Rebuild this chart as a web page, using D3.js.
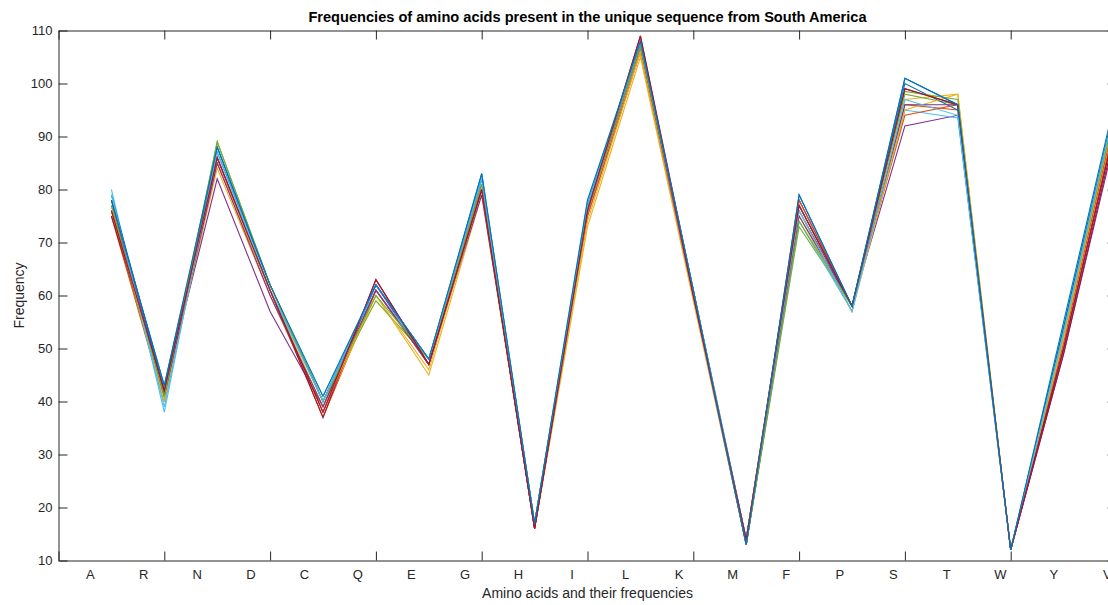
<!DOCTYPE html>
<html>
<head>
<meta charset="utf-8">
<script src="https://cdn.jsdelivr.net/npm/d3@7"></script>
<style>
  body { margin: 0; background: #fff; }
  svg { display: block; font-family: "Liberation Sans", Arial, sans-serif; }
</style>
</head>
<body>
<div id="chart-area"></div>
<script>
// amino acids along the x axis
var aminoAcids = ["A", "R", "N", "D", "C", "Q", "E", "G", "H", "I", "L", "K", "M", "F", "P", "S", "T", "W", "Y", "V"];

var yTicks = [10, 20, 30, 40, 50, 60, 70, 80, 90, 100, 110];
var xTicks = [0, 2, 4, 6, 8, 10, 12, 14, 16, 18, 20];

// one array per sequence (frequency of each amino acid, order as above)
var seq01 = [78, 43, 87, 62, 40, 62, 48, 83, 17, 77, 108, 61, 13, 79, 58, 101, 96, 12, 54, 97];
var seq02 = [75, 40, 85, 61, 37, 61, 47, 80, 16, 75, 106, 60, 14, 77, 58, 96, 95, 12, 50, 94];
var seq03 = [76, 41, 84, 60, 38, 60, 45, 79, 16, 73, 105, 59, 13, 75, 57, 97, 98, 12, 51, 95];
var seq04 = [77, 42, 82, 57, 39, 62, 47, 79, 17, 76, 107, 60, 14, 76, 58, 92, 94, 12, 49, 91];
var seq05 = [76, 40, 89, 62, 40, 59, 48, 81, 16, 77, 107, 61, 13, 73, 58, 98, 96, 12, 52, 96];
var seq06 = [80, 38, 88, 61, 41, 61, 48, 82, 17, 78, 107, 60, 13, 74, 57, 95, 93.5, 12, 53, 96];
var seq07 = [75, 42, 86, 61, 37, 63, 47, 80, 16, 76, 109, 61, 14, 78, 58, 99, 96, 12, 49, 92];
var seq08 = [79, 42, 88, 62, 40, 62, 48, 82, 17, 77, 108, 61, 13, 77, 58, 100, 95, 12, 54, 97];
var seq09 = [76, 41, 86, 61, 38, 61, 47, 81, 16, 75, 106, 60, 14, 78, 58, 94, 96, 12, 51, 95];
var seq10 = [77, 40, 85, 61, 39, 60, 46, 80, 17, 74, 106, 60, 13, 76, 57, 95, 98, 12, 52, 96];
var seq11 = [78, 41, 85, 60, 39, 61, 47, 80, 16, 76, 107, 60, 13, 75, 58, 96, 96, 12, 50, 93];
var seq12 = [77, 41, 89, 62, 40, 60, 48, 81, 17, 76, 107, 61, 13, 74, 58, 98.5, 97, 12, 53, 96];
var seq13 = [79, 39, 87, 61, 40, 62, 48, 82, 17, 77, 108, 61, 14, 76, 57, 97, 94, 12, 53, 97];
var seq14 = [76, 42, 86, 61, 38, 63, 47, 80, 16, 76, 109, 60, 14, 77, 58, 99, 96, 12, 50, 93];
var seq15 = [78, 43, 88, 62, 41, 62, 48, 83, 17, 78, 108, 61, 13, 79, 58, 101, 96, 12, 55, 98];

var series = [seq01, seq02, seq03, seq04, seq05, seq06, seq07, seq08,
              seq09, seq10, seq11, seq12, seq13, seq14, seq15];

// matlab default line colours
var lineColors = ["#0072BD", "#D95319", "#EDB120", "#7E2F8E", "#77AC30", "#4DBEEE", "#A2142F"];

var width = 1108;
var height = 605;
var ink = "#262626";

var svg = d3.select("#chart-area").append("svg")
	.attr("width", width)
	.attr("height", height);

svg.append("rect")
	.attr("width", width)
	.attr("height", height)
	.attr("fill", "#fff");

// Scales
var x = d3.scaleLinear()
	.domain([0, 20])
	.range([58.5, 1116.5]);

var y = d3.scaleLinear()
	.domain([10, 110])
	.range([560.5, 30.5]);

// Lines
var line = d3.line()
	.x((d, i) => x(i + 1))
	.y((d) => y(d));

svg.append("g")
	.selectAll("path")
	.data(series)
	.enter().append("path")
	.attr("d", line)
	.attr("fill", "none")
	.attr("stroke", (d, i) => lineColors[i % lineColors.length])
	.attr("stroke-width", 1.1)
	.attr("stroke-linejoin", "miter");

// Axis groups (box with ticks pointing inwards)
var tickLen = 9;

var bottomAxis = svg.append("g")
	.attr("transform", "translate(0, " + y(10) + ")")
	.call(d3.axisBottom(x).tickValues(xTicks).tickSize(-tickLen).tickSizeOuter(0).tickFormat(""));

var topAxis = svg.append("g")
	.attr("transform", "translate(0, " + y(110) + ")")
	.call(d3.axisTop(x).tickValues(xTicks).tickSize(-tickLen).tickSizeOuter(0).tickFormat(""));

var leftAxis = svg.append("g")
	.attr("transform", "translate(" + x(0) + ", 0)")
	.call(d3.axisLeft(y).tickValues(yTicks).tickSize(-tickLen).tickSizeOuter(0).tickPadding(6));

var rightAxis = svg.append("g")
	.attr("transform", "translate(" + x(20) + ", 0)")
	.call(d3.axisRight(y).tickValues(yTicks).tickSize(-tickLen).tickSizeOuter(0).tickFormat(""));

svg.selectAll(".domain, .tick line")
	.attr("stroke", ink)
	.attr("stroke-width", 1);

leftAxis.selectAll("text")
	.attr("fill", ink)
	.style("font-size", "13px")
	.style("font-family", "Liberation Sans, Arial, sans-serif");

// x labels for the amino acids
svg.append("g")
	.selectAll("text")
	.data(aminoAcids)
	.enter().append("text")
	.attr("x", (d, i) => x(0.6 + i * 1.012))
	.attr("y", 579)
	.attr("text-anchor", "middle")
	.attr("fill", ink)
	.style("font-size", "13px")
	.text((d) => d);

// Title
svg.append("text")
	.attr("x", x(10))
	.attr("y", 22)
	.attr("text-anchor", "middle")
	.attr("fill", "#000")
	.style("font-size", "14.6px")
	.style("font-weight", "bold")
	.text("Frequencies of amino acids present in the unique sequence from South America");

// x label
svg.append("text")
	.attr("x", x(10))
	.attr("y", 598)
	.attr("text-anchor", "middle")
	.attr("fill", ink)
	.style("font-size", "14px")
	.text("Amino acids and their frequencies");

// y label
svg.append("text")
	.attr("transform", "rotate(-90)")
	.attr("x", -y(60))
	.attr("y", 24)
	.attr("text-anchor", "middle")
	.attr("fill", ink)
	.style("font-size", "14px")
	.text("Frequency");
</script>
</body>
</html>
